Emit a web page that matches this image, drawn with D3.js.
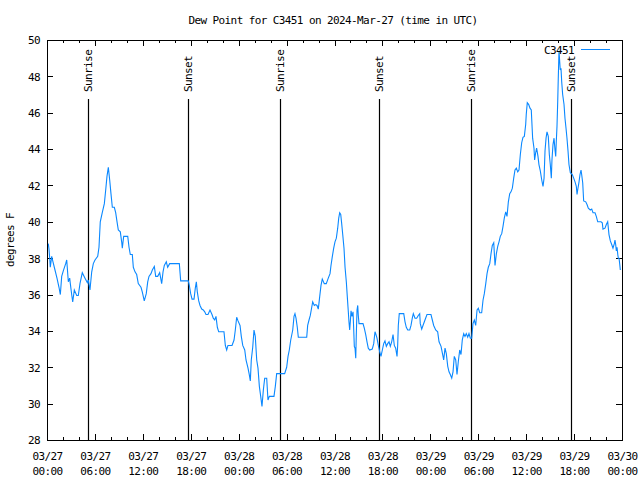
<!DOCTYPE html>
<html>
<head>
<meta charset="utf-8">
<script src="https://cdn.jsdelivr.net/npm/d3@7"></script>
<style>
  body { margin: 0; background: #fff; }
  svg text { font-family: "DejaVu Sans Mono", "Liberation Mono", monospace; font-size: 11px; letter-spacing: -0.6px; fill: #000; }
</style>
</head>
<body>
<figure id="chart" style="margin:0"></figure>
<script>
// hours since 2024-03-27 00:00 UTC
const hours = [
  0.16, 0.25, 0.34, 0.41, 0.59, 0.75, 1.00, 1.25, 1.50, 1.67, 1.84, 2.04, 2.34, 2.47, 2.67, 2.84, 2.92, 3.09, 3.22, 3.42,
  3.72, 3.92, 4.13, 4.42, 4.76, 5.05, 5.17, 5.38, 5.60, 5.80, 6.01, 6.35, 6.51, 6.67, 6.92, 7.18, 7.35, 7.51, 7.68, 7.85,
  8.01, 8.18, 8.43, 8.60, 8.77, 8.93, 9.18, 9.35, 9.43, 9.60, 10.11, 10.27, 10.43, 10.68, 10.81, 11.02, 11.23, 11.43, 11.77, 11.93,
  12.18, 12.43, 12.61, 12.77, 13.02, 13.19, 13.44, 13.61, 13.86, 14.11, 14.36, 14.53, 14.69, 14.94, 15.11, 15.36, 16.57, 16.74, 17.69, 17.82,
  17.99, 18.16, 18.41, 18.57, 18.70, 18.82, 19.00, 19.16, 19.37, 19.57, 19.75, 19.91, 20.16, 20.41, 20.66, 20.82, 21.00, 21.16, 21.33, 21.50,
  22.16, 22.33, 22.50, 22.66, 23.17, 23.42, 23.58, 23.75, 23.92, 24.17, 24.33, 24.51, 24.76, 24.92, 25.17, 25.33, 25.46, 25.58, 25.76, 25.92,
  26.08, 26.26, 26.42, 26.59, 26.76, 26.92, 27.09, 27.26, 27.51, 27.67, 27.84, 28.14, 28.42, 28.59, 28.76, 29.76, 30.01, 30.18, 30.34, 30.52,
  30.77, 30.93, 31.05, 31.18, 31.34, 31.47, 32.52, 32.64, 32.81, 32.97, 33.15, 33.27, 33.47, 33.65, 33.81, 33.97, 34.15, 34.31, 34.47, 34.72,
  34.97, 35.22, 35.44, 35.56, 35.73, 35.90, 36.06, 36.23, 36.40, 36.53, 36.65, 36.78, 36.90, 37.03, 37.19, 37.32, 37.48, 37.60, 37.73, 37.81,
  37.90, 37.98, 38.07, 38.19, 38.32, 38.40, 38.48, 38.57, 38.66, 38.73, 38.82, 38.91, 38.98, 39.07, 39.57, 39.73, 39.91, 40.07, 40.23, 40.41,
  40.73, 40.91, 41.07, 41.20, 41.32, 41.49, 41.66, 41.82, 41.99, 42.16, 42.32, 42.49, 42.66, 42.83, 42.99, 43.16, 43.33, 43.49, 43.66, 43.83,
  43.91, 43.99, 44.11, 44.67, 44.83, 44.99, 45.17, 45.42, 45.58, 45.74, 45.87, 46.08, 46.29, 46.49, 46.67, 46.74, 46.92, 47.08, 47.33, 47.58,
  48.08, 48.25, 48.42, 48.67, 48.92, 49.09, 49.34, 49.59, 49.67, 49.84, 50.00, 50.18, 50.34, 50.50, 50.68, 50.84, 51.00, 51.18, 51.34, 51.50,
  51.68, 51.84, 52.00, 52.18, 52.34, 52.50, 52.68, 52.84, 53.01, 53.18, 53.34, 53.51, 53.68, 53.85, 54.01, 54.18, 54.43, 54.60, 54.76, 54.94,
  55.10, 55.26, 55.44, 55.60, 55.76, 55.94, 56.10, 56.27, 56.44, 56.60, 56.76, 56.94, 57.10, 57.26, 57.44, 57.60, 57.77, 57.94, 58.10, 58.27,
  58.44, 58.60, 58.77, 58.94, 59.10, 59.27, 59.44, 59.60, 59.77, 59.94, 60.01, 60.14, 60.32, 60.48, 60.64, 60.81, 60.98, 61.06, 61.19, 61.31,
  61.48, 61.60, 61.77, 61.95, 62.11, 62.24, 62.36, 62.49, 62.61, 62.77, 62.90, 63.02, 63.15, 63.23, 63.36, 63.49, 63.61, 63.70, 63.77, 63.86,
  63.95, 64.02, 64.11, 64.20, 64.27, 64.36, 64.45, 64.57, 64.74, 64.86, 64.99, 65.11, 65.24, 65.36, 65.53, 65.78, 65.95, 66.12, 66.28, 66.37,
  66.45, 66.62, 66.74, 66.87, 66.95, 67.08, 67.20, 67.46, 67.62, 67.78, 68.03, 68.21, 68.37, 68.62, 68.78, 68.96, 69.37, 69.53, 69.62, 69.87,
  70.04, 70.21, 70.37, 70.54, 70.71, 70.87, 71.04, 71.12, 71.21, 71.29, 71.38, 71.47, 71.54, 71.63, 71.72, 71.79
];

const dewPoint = [
  38.8, 38.5, 38.0, 37.5, 38.1, 37.8, 37.35, 36.9, 36.4, 36.0, 37.0, 37.3, 37.7, 37.9, 36.7, 36.9, 36.6, 36.0, 35.6, 36.25,
  35.95, 35.95, 36.6, 37.2, 36.9, 36.65, 36.8, 36.25, 37.25, 37.7, 37.9, 38.1, 38.6, 40.0, 40.5, 41.0, 41.75, 42.5, 43.0, 42.3,
  41.55, 40.8, 40.8, 40.5, 40.0, 39.55, 39.45, 38.9, 38.55, 39.2, 39.2, 38.6, 38.2, 38.2, 37.5, 37.25, 37.1, 36.6, 36.4, 36.15,
  35.65, 36.05, 36.7, 37.0, 37.15, 37.35, 37.55, 37.0, 37.0, 37.2, 36.6, 37.25, 37.6, 37.8, 37.5, 37.7, 37.7, 36.75, 36.75, 36.5,
  36.05, 35.75, 35.75, 36.35, 36.7, 36.15, 35.65, 35.4, 35.2, 35.15, 35.05, 34.9, 34.9, 35.15, 34.9, 34.7, 34.6, 34.8, 34.2, 33.95,
  33.95, 33.2, 32.95, 33.2, 33.2, 33.5, 34.05, 34.75, 34.55, 34.3, 33.7, 33.2, 32.95, 32.4, 31.95, 31.6, 31.25, 32.4, 33.1, 34.05,
  33.7, 32.4, 31.95, 30.95, 30.4, 29.85, 30.75, 31.4, 31.4, 30.2, 30.4, 30.4, 30.4, 30.95, 31.65, 31.65, 32.0, 32.6, 32.95, 33.5,
  34.05, 34.8, 34.95, 34.7, 34.2, 33.65, 33.65, 34.3, 34.6, 34.85, 35.3, 35.6, 35.4, 35.45, 35.4, 35.2, 35.9, 36.5, 36.85, 36.6,
  36.6, 36.9, 37.15, 37.6, 38.1, 38.55, 38.9, 39.1, 39.65, 40.2, 40.5, 40.4, 39.9, 39.3, 38.55, 37.5, 36.7, 35.9, 35.05, 34.5,
  34.05, 34.5, 35.1, 34.8, 35.05, 34.15, 33.15, 33.05, 32.5, 33.8, 35.15, 35.4, 34.85, 34.4, 34.4, 34.15, 33.8, 33.4, 33.05, 32.95,
  33.0, 33.3, 33.95, 33.8, 33.6, 33.2, 32.85, 32.6, 32.95, 33.3, 33.45, 33.15, 33.3, 33.4, 33.15, 33.4, 33.8, 33.2, 33.05, 32.6,
  33.2, 34.3, 34.95, 34.95, 34.5, 34.2, 34.05, 34.05, 34.3, 34.7, 34.95, 34.7, 34.7, 34.85, 34.95, 34.4, 34.1, 34.3, 34.6, 34.9,
  34.9, 34.6, 34.3, 34.05, 33.95, 33.4, 33.15, 32.6, 32.4, 33.05, 32.75, 32.05, 31.75, 31.6, 31.4, 31.75, 32.6, 32.4, 31.6, 32.3,
  32.95, 32.7, 33.5, 33.85, 33.7, 33.85, 33.65, 33.85, 33.6, 33.6, 34.4, 34.6, 34.3, 35.15, 35.25, 35.0, 35.0, 35.7, 36.05, 36.6,
  37.15, 37.5, 37.7, 38.25, 38.7, 38.85, 37.6, 38.25, 38.65, 38.9, 39.2, 39.35, 39.75, 40.2, 40.55, 40.3, 41.1, 41.55, 41.65, 41.85,
  42.4, 42.85, 42.95, 42.75, 42.85, 43.7, 44.35, 44.65, 44.7, 45.35, 45.9, 46.55, 46.45, 46.25, 46.15, 44.6, 44.05, 43.4, 43.8, 44.05,
  43.6, 43.15, 42.8, 42.3, 41.95, 42.4, 43.9, 44.6, 44.95, 44.7, 43.7, 43.15, 42.4, 43.4, 44.25, 44.6, 43.95, 43.6, 44.4, 45.25,
  46.6, 47.9, 49.4, 48.8, 48.35, 48.45, 47.7, 47.0, 46.45, 45.7, 45.15, 44.6, 43.9, 43.15, 42.7, 42.6, 42.4, 42.2, 41.95, 41.5,
  41.75, 42.2, 42.6, 42.85, 42.6, 42.15, 41.15, 41.1, 40.95, 40.75, 40.65, 40.7, 40.5, 40.5, 40.3, 40.0, 40.0, 39.95, 39.6, 39.65,
  39.85, 40.0, 39.3, 38.95, 38.75, 38.55, 38.8, 39.0, 38.75, 38.4, 38.6, 38.2, 38.0, 38.0, 37.65, 37.35
];

const sunriseTimes = ['2024-03-27T05:10Z', '2024-03-28T05:13Z', '2024-03-29T05:08Z'];
const sunsetTimes = ['2024-03-27T17:41Z', '2024-03-28T17:37Z', '2024-03-29T17:39Z'];
const yTickValues = [28, 30, 32, 34, 36, 38, 40, 42, 44, 46, 48, 50];
const xDomain = ['2024-03-27T00:00Z', '2024-03-30T00:00Z'];
const seriesName = 'C3451';
const title = 'Dew Point for C3451 on 2024-Mar-27 (time in UTC)';

const width = 640;
const height = 480;
const margin = { top: 40, right: 18, bottom: 40, left: 47 };
const plotW = width - margin.left - margin.right;
const plotH = height - margin.top - margin.bottom;

const start = new Date(xDomain[0]);
const data = hours.map((h, i) => ({ t: new Date(+start + h * 3600e3), v: dewPoint[i] }));

const svg = d3.select('#chart')
  .append('svg')
  .attr('width', width)
  .attr('height', height);

const g = svg.append('g')
  .attr('transform', 'translate(' + margin.left + ',' + margin.top + ')');

const x = d3.scaleUtc()
  .domain(xDomain.map(d => new Date(d)))
  .range([0, plotW]);

const y = d3.scaleLinear()
  .domain([28, 50])
  .range([plotH, 0]);

// minor ticks every 2 hours, top and bottom
g.append('g')
  .attr('transform', 'translate(0,' + plotH + ')')
  .call(d3.axisBottom(x).ticks(d3.utcHour.every(2)).tickSize(-3).tickFormat(''))
  .call(a => a.select('.domain').remove());
g.append('g')
  .call(d3.axisTop(x).ticks(d3.utcHour.every(2)).tickSize(-3).tickFormat(''))
  .call(a => a.select('.domain').remove());

// major ticks every 6 hours
const fmtDay = d3.utcFormat('%m/%d');
const fmtTime = d3.utcFormat('%H:%M');
const xAxis = g.append('g')
  .attr('transform', 'translate(0,' + plotH + ')')
  .call(d3.axisBottom(x).ticks(d3.utcHour.every(6)).tickSize(-6).tickPadding(10).tickFormat(''));
xAxis.select('.domain').remove();
xAxis.selectAll('.tick text')
  .attr('dy', null)
  .each(function (d) {
    const t = d3.select(this);
    t.append('tspan').attr('x', 0).attr('y', 20).text(fmtDay(d));
    t.append('tspan').attr('x', 0).attr('y', 35).text(fmtTime(d));
  });
g.append('g')
  .call(d3.axisTop(x).ticks(d3.utcHour.every(6)).tickSize(-6).tickFormat(''))
  .call(a => a.select('.domain').remove());

// y axis left (labelled) and right (mirror)
g.append('g')
  .call(d3.axisLeft(y).tickValues(yTickValues).tickSize(-6).tickPadding(7))
  .call(a => a.select('.domain').remove())
  .selectAll('text').attr('dy', '0.35em');
g.append('g')
  .attr('transform', 'translate(' + plotW + ',0)')
  .call(d3.axisRight(y).tickValues(yTickValues.slice(1, -1)).tickSize(-6).tickFormat(''))
  .call(a => a.select('.domain').remove());

g.selectAll('.tick line')
  .attr('stroke', '#000')
  .attr('shape-rendering', 'crispEdges');
g.selectAll('.tick text')
  .attr('font-family', null)
  .attr('font-size', null);

// sunrise / sunset markers
const events = sunriseTimes.map(t => ({ t: new Date(t), label: 'Sunrise' }))
  .concat(sunsetTimes.map(t => ({ t: new Date(t), label: 'Sunset' })));

g.selectAll('.event-line')
  .data(events)
  .enter()
  .append('line')
  .attr('x1', d => Math.round(x(d.t)) + 0.5)
  .attr('x2', d => Math.round(x(d.t)) + 0.5)
  .attr('y1', 59)
  .attr('y2', plotH)
  .attr('stroke', '#000')
  .attr('stroke-width', 1.2);

g.selectAll('.event-label')
  .data(events)
  .enter()
  .append('text')
  .attr('transform', d => 'translate(' + (Math.round(x(d.t)) + 0.5) + ',52) rotate(-90)')
  .attr('text-anchor', 'start')
  .attr('dy', '0.35em')
  .text(d => d.label);

// data line
svg.append('clipPath').attr('id', 'clip')
  .append('rect').attr('width', plotW).attr('height', plotH);

g.append('path')
  .datum(data)
  .attr('clip-path', 'url(#clip)')
  .attr('fill', 'none')
  .attr('stroke', '#0a88ff')
  .attr('stroke-width', 1.1)
  .attr('d', d3.line().x(d => x(d.t)).y(d => y(d.v)));

// frame
g.append('rect')
  .attr('x', 0.5)
  .attr('y', 0.5)
  .attr('width', plotW)
  .attr('height', plotH)
  .attr('fill', 'none')
  .attr('stroke', '#000')
  .attr('shape-rendering', 'crispEdges');

// legend
g.append('text')
  .attr('x', plotW - 48)
  .attr('y', 10)
  .attr('dy', '0.35em')
  .attr('text-anchor', 'end')
  .text(seriesName);
g.append('line')
  .attr('x1', plotW - 41)
  .attr('x2', plotW - 12)
  .attr('y1', 9.5)
  .attr('y2', 9.5)
  .attr('stroke', '#0a88ff');

// title and y label
svg.append('text')
  .attr('x', 333)
  .attr('y', 20)
  .attr('dy', '0.35em')
  .attr('text-anchor', 'middle')
  .text(title);

svg.append('text')
  .attr('transform', 'translate(10,240) rotate(-90)')
  .attr('text-anchor', 'middle')
  .attr('dy', '0.35em')
  .text('degrees F');
</script>
</body>
</html>
